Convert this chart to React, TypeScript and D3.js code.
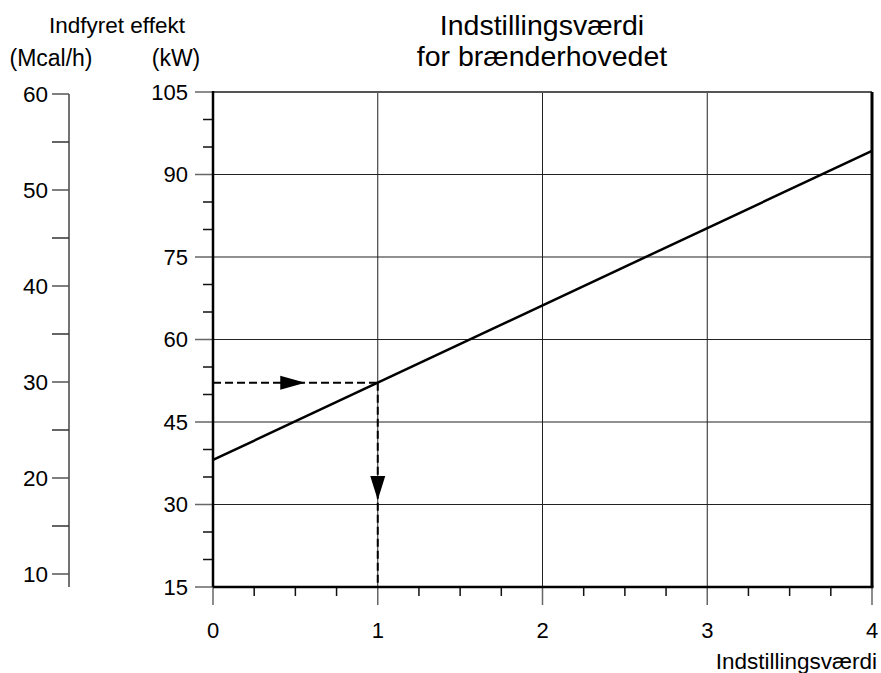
import React from 'react';
import * as d3 from 'd3';

// kW axis and setting axis
const settingTicks = [0, 1, 2, 3, 4];
const kwTicks = [15, 30, 45, 60, 75, 90, 105];
const mcalTicks = [10, 20, 30, 40, 50, 60];
// burner head setting line (setting -> kW)
const lineSettings = [0, 4];
const lineKw = [38.1, 94.3];
// reading example
const exampleSetting = 1;

const W = 881, H = 673;
const font = 'Liberation Sans, Arial, sans-serif';

export default function App() {
  const x = d3.scaleLinear().domain([0, 4]).range([213, 872]);
  const y = d3.scaleLinear().domain([15, 105]).range([587, 92]);
  const yM = d3.scaleLinear().domain([10, 60]).range([574, 94]);

  const pts = lineSettings.map((s, i) => ({ s, kw: lineKw[i] }));
  const lineGen = d3.line<{ s: number; kw: number }>().x(d => x(d.s)).y(d => y(d.kw));
  const kwAt = d3.scaleLinear().domain(lineSettings).range(lineKw);
  const exKw = kwAt(exampleSetting);

  const kwMinor = d3.range(20, 105, 5).filter(v => v % 15 !== 0);
  const setMinor = d3.range(0.25, 4, 0.25).filter(v => v % 1 !== 0);
  const mcalMinor = d3.range(15, 60, 10);

  const [x0, x1] = x.range();
  const [yb, yt] = y.range();

  // arrow heads
  const hx = x(0.56), hy = y(exKw);
  const vx = x(exampleSetting), vy = y(30.8);

  return (
    <div style={{ position: 'fixed', left: 0, top: 0 }}>
      <svg width={W} height={H} style={{ display: 'block', background: '#fff' }} fontFamily={font}>
        {/* titles */}
        <text x={542} y={35} fontSize={28.5} textAnchor="middle">Indstillingsværdi</text>
        <text x={542} y={66} fontSize={28.5} textAnchor="middle">for brænderhovedet</text>
        <text x={117} y={33} fontSize={22.5} textAnchor="middle">Indfyret effekt</text>
        <text x={51} y={66} fontSize={23} textAnchor="middle">(Mcal/h)</text>
        <text x={176} y={66} fontSize={23} textAnchor="middle">(kW)</text>

        {/* Mcal/h axis */}
        <line x1={69} x2={69} y1={yM(60)} y2={yb} stroke="#444" strokeWidth={1.5} />
        {mcalTicks.map(v => (
          <g key={'m' + v}>
            <line x1={52} x2={69} y1={yM(v)} y2={yM(v)} stroke="#555" strokeWidth={1.5} />
            <text x={48} y={yM(v)} dy="0.35em" fontSize={22.5} textAnchor="end">{v}</text>
          </g>
        ))}
        {mcalMinor.map(v => (
          <line key={'mm' + v} x1={52} x2={69} y1={yM(v)} y2={yM(v)} stroke="#333" strokeWidth={1.5} />
        ))}

        {/* grid */}
        {kwTicks.slice(1, -1).map(v => (
          <line key={'gy' + v} x1={x0} x2={x1} y1={y(v)} y2={y(v)} stroke="#222" strokeWidth={1} />
        ))}
        {settingTicks.slice(1, -1).map(v => (
          <line key={'gx' + v} x1={x(v)} x2={x(v)} y1={yb} y2={yt} stroke="#222" strokeWidth={1} />
        ))}

        {/* kW axis ticks */}
        {kwTicks.map(v => (
          <g key={'k' + v}>
            <line x1={195} x2={x0} y1={y(v)} y2={y(v)} stroke="#666" strokeWidth={1.5} />
            <text x={188} y={y(v)} dy="0.35em" fontSize={22} textAnchor="end">{v}</text>
          </g>
        ))}
        {kwMinor.map(v => (
          <line key={'km' + v} x1={203} x2={x0} y1={y(v)} y2={y(v)} stroke="#111" strokeWidth={1.5} />
        ))}

        {/* setting axis ticks */}
        {settingTicks.map(v => (
          <g key={'s' + v}>
            <line x1={x(v)} x2={x(v)} y1={yb} y2={yb + 18} stroke="#666" strokeWidth={1.5} />
            <text x={x(v)} y={638} fontSize={22} textAnchor="middle">{v}</text>
          </g>
        ))}
        {setMinor.map(v => (
          <line key={'sm' + v} x1={x(v)} x2={x(v)} y1={yb} y2={yb + 9} stroke="#111" strokeWidth={1.5} />
        ))}
        <text x={877} y={669} fontSize={22.5} textAnchor="end">Indstillingsværdi</text>

        {/* frame */}
        <line x1={x0} x2={x1} y1={yt} y2={yt} stroke="#555" strokeWidth={2} />
        <line x1={x1} x2={x1} y1={yt} y2={yb} stroke="#000" strokeWidth={3} />
        <line x1={x0} x2={x1 + 1.5} y1={yb} y2={yb} stroke="#000" strokeWidth={2.5} />
        <line x1={x0} x2={x0} y1={yt - 1} y2={yb} stroke="#000" strokeWidth={2.5} />

        {/* example reading */}
        <line x1={x0} x2={x(exampleSetting)} y1={y(exKw)} y2={y(exKw)} stroke="#000" strokeWidth={2} strokeDasharray="8,4" />
        <line x1={x(exampleSetting)} x2={x(exampleSetting)} y1={y(exKw)} y2={yb} stroke="#000" strokeWidth={2} strokeDasharray="8,4" />
        <path d={`M${hx},${hy} L${hx - 25},${hy - 7} L${hx - 25},${hy + 7} Z`} fill="#000" />
        <path d={`M${vx},${vy} L${vx - 7.5},${vy - 24} L${vx + 7.5},${vy - 24} Z`} fill="#000" />

        {/* setting line */}
        <path d={lineGen(pts) || ''} fill="none" stroke="#000" strokeWidth={2.5} />
      </svg>
    </div>
  );
}
